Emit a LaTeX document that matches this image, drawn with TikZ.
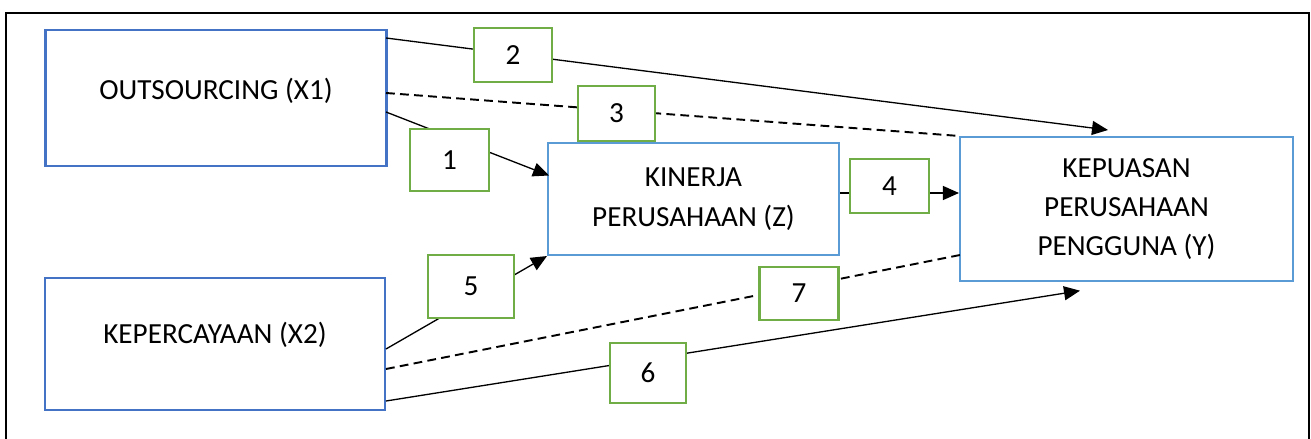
\documentclass[tikz,border=0pt]{standalone}
\usepackage{fontspec}
\setmainfont{Carlito}
\usetikzlibrary{arrows.meta}
\definecolor{varblue}{HTML}{4472C4}
\definecolor{varlight}{HTML}{5B9BD5}
\definecolor{pathgreen}{HTML}{70AD47}
\begin{document}
\begin{tikzpicture}[x=0.02cm,y=-0.02cm]
                \tikzstyle{every node}+=[inner sep=0pt, font=\fontsize{16.6}{22.4}\selectfont]
                \tikzstyle{varbox}=[draw=varblue, line width=1.2pt, align=center]
                \tikzstyle{lbox}=[draw=pathgreen, fill=white, line width=1.3pt]
                \tikzstyle{conn}=[line width=0.75pt]
                \tikzstyle{arr}=[conn, -{Triangle[length=0.32cm,width=0.28cm]}]
                \tikzstyle{dashline}=[line width=1.1pt, dash pattern=on 5pt off 3pt]
                \useasboundingbox (0,0) rectangle (1311,439);
                \draw [black, line width=1.5pt] (6,450) -- (6,13) -- (1309,13) -- (1309,450);
                \node [varbox, minimum width=6.82cm, minimum height=2.72cm, text height=0.3cm, text depth=0.256cm] (x1) at (216,98.3) {OUTSOURCING (X1)};
                \node [varbox, minimum width=6.79cm, minimum height=2.64cm, text height=0.3cm, text depth=0.336cm] (x2) at (215,344) {KEPERCAYAAN (X2)};
                \node [varbox, draw=varlight, minimum width=5.82cm, minimum height=2.24cm] (z) at (693.5,199) {KINERJA\\PERUSAHAAN (Z)};
                \node [varbox, draw=varlight, minimum width=6.66cm, minimum height=2.88cm] (y) at (1126.5,209) {KEPUASAN\\PERUSAHAAN\\PENGGUNA (Y)};
                \coordinate (x1a) at (386,38);
                \coordinate (x1b) at (386,93);
                \coordinate (x1c) at (386,112);
                \coordinate (x2a) at (386,349);
                \coordinate (x2b) at (386,369);
                \coordinate (x2c) at (386,401);
                \coordinate (zin1) at (549,175.5);
                \coordinate (ytop) at (1108,130);
                \coordinate (ybot) at (1080,290.7);
                \coordinate (yin7) at (960,255);
                \draw [arr] (x1a) -- (ytop);
                \draw [dashline] (x1b) -- (y.north west);
                \draw [arr] (x1c) -- (zin1);
                \draw [arr] (z.east |- 0,193) -- (y.west |- 0,193);
                \draw [arr] (x2a) -- (z.south west);
                \draw [dashline] (x2b) -- (yin7);
                \draw [arr] (x2c) -- (ybot);
                \node [lbox, minimum width=1.56cm, minimum height=1.08cm] (p2) at (513,55) {2};
                \node [lbox, minimum width=1.54cm, minimum height=1.1cm] (p3) at (616.5,113.5) {3};
                \node [lbox, minimum width=1.58cm, minimum height=1.24cm] (p1) at (449.5,160) {1};
                \node [lbox, minimum width=1.58cm, minimum height=1.08cm] (p4) at (889.5,186) {4};
                \node [lbox, minimum width=1.72cm, minimum height=1.26cm] (p5) at (471,286.5) {5};
                \node [lbox, minimum width=1.58cm, minimum height=1.06cm] (p7) at (799,293.5) {7};
                \node [lbox, minimum width=1.52cm, minimum height=1.2cm] (p6) at (648,373) {6};
            \end{tikzpicture}
\end{document}
